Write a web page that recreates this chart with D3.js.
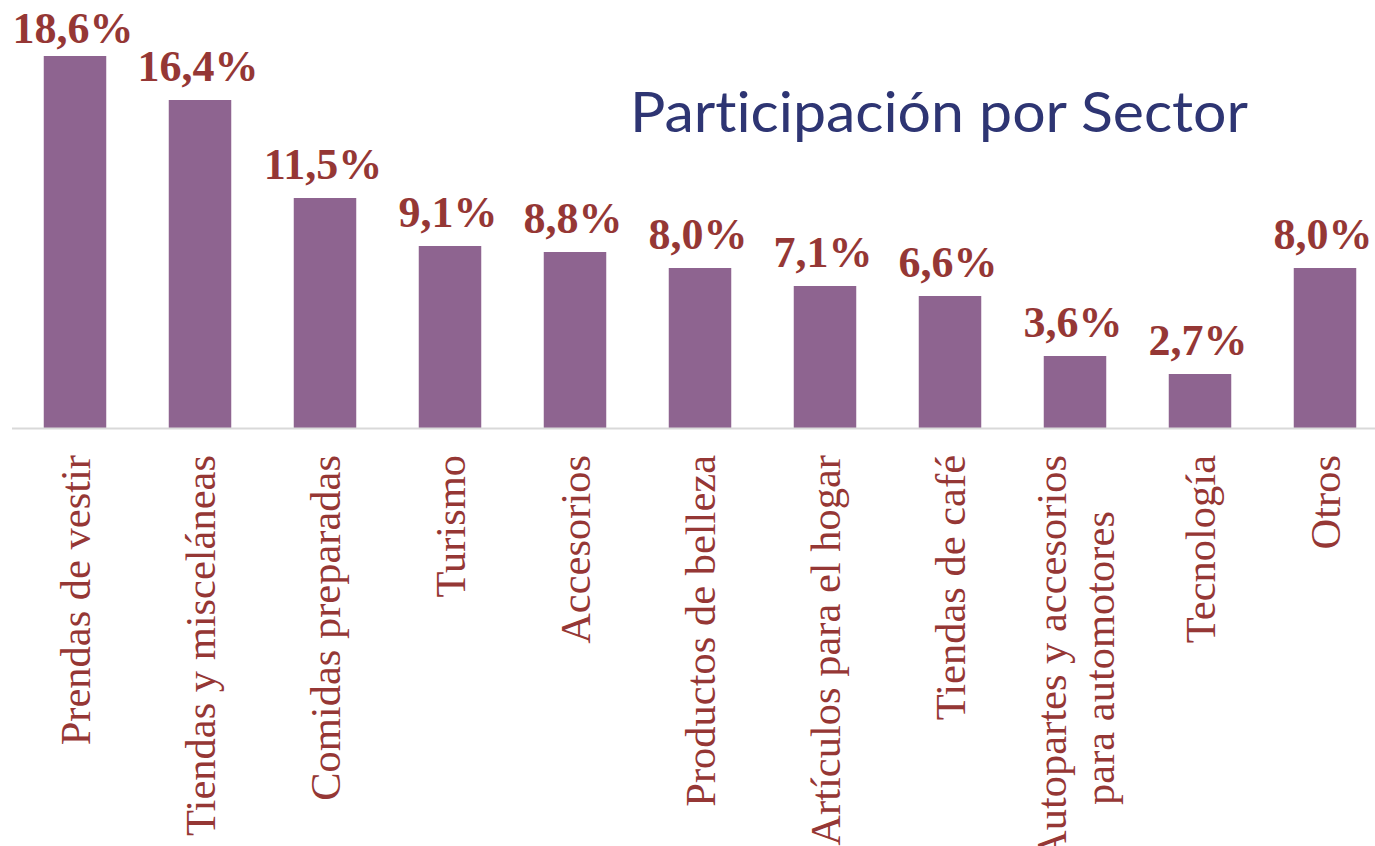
<!DOCTYPE html>
<html>
<head>
<meta charset="utf-8">
<script src="https://cdn.jsdelivr.net/npm/d3@7"></script>
<style>
  html, body { margin: 0; padding: 0; background: #fff; overflow: hidden; }
  text { font-variant-ligatures: none; }
</style>
</head>
<body>
<div id="chart"></div>
<script>
const sectors = [
  ['Prendas de vestir'],
  ['Tiendas y misceláneas'],
  ['Comidas preparadas'],
  ['Turismo'],
  ['Accesorios'],
  ['Productos de belleza'],
  ['Artículos para el hogar'],
  ['Tiendas de café'],
  ['Autopartes y accesorios', 'para automotores'],
  ['Tecnología'],
  ['Otros']
];
const shares = [18.6, 16.4, 11.5, 9.1, 8.8, 8.0, 7.1, 6.6, 3.6, 2.7, 8.0];
const chartTitle = 'Participación por Sector';

const width = 1375, height = 846;
const barColor = '#8E6490';
const labelColor = '#953735';
const titleColor = '#2E3573';

const svg = d3.select('#chart').append('svg')
  .attr('width', width)
  .attr('height', height);

const data = sectors.map((lines, i) => ({ key: lines.join(' '), lines, value: shares[i] }));

const x = d3.scaleBand()
  .domain(data.map(d => d.key))
  .range([12.5, 1387.5])
  .paddingInner(0.5)
  .paddingOuter(0.25);

const y = d3.scaleLinear()
  .domain([0, 18.6])
  .range([428, 56]);

// bars
svg.selectAll('rect.bar')
  .data(data)
  .join('rect')
  .attr('class', 'bar')
  .attr('x', d => x(d.key))
  .attr('y', d => y(d.value))
  .attr('width', x.bandwidth())
  .attr('height', d => y(0) - y(d.value))
  .attr('fill', barColor);

// baseline
svg.append('line')
  .attr('x1', 12).attr('x2', width)
  .attr('y1', y(0) + 0.5).attr('y2', y(0) + 0.5)
  .attr('stroke', '#d9d9d9')
  .attr('stroke-width', 2);

// value labels
svg.selectAll('text.value')
  .data(data)
  .join('text')
  .attr('class', 'value')
  .attr('x', d => x(d.key) + x.bandwidth() / 2 - 2)
  .attr('y', d => Math.max(y(d.value) - 19, 43))
  .attr('text-anchor', 'middle')
  .style('font-family', '"Liberation Serif", "Times New Roman", serif')
  .style('font-weight', 'bold')
  .style('font-size', '44px')
  .style('fill', labelColor)
  .text(d => d.value.toFixed(1).replace('.', ',') + '%');

// category labels, rotated
const fs = 42.5, lineGap = 48;
const cats = svg.selectAll('g.cat')
  .data(data)
  .join('g')
  .attr('class', 'cat')
  .attr('transform', d => `translate(${x(d.key) + x.bandwidth() / 2},455) rotate(-90)`);

cats.each(function(d) {
  const g = d3.select(this);
  const n = d.lines.length;
  const texts = d.lines.map((line, i) => g.append('text')
    .attr('y', (i - (n - 1) / 2) * lineGap + fs * 0.36)
    .style('font-family', '"Liberation Serif", "Times New Roman", serif')
    .style('font-size', fs + 'px')
    .style('fill', labelColor)
    .text(line));
  const lens = texts.map(t => t.node().getComputedTextLength());
  const maxLen = d3.max(lens);
  texts.forEach(t => t.attr('x', -maxLen / 2).attr('text-anchor', 'middle'));
});

// title
svg.append('text')
  .attr('x', 630)
  .attr('y', 132)
  .style('font-family', 'Lato, "Open Sans", sans-serif')
  .style('font-size', '56px')
  .style('fill', titleColor)
  .attr('textLength', 618)
  .attr('lengthAdjust', 'spacingAndGlyphs')
  .text(chartTitle);
</script>
</body>
</html>
